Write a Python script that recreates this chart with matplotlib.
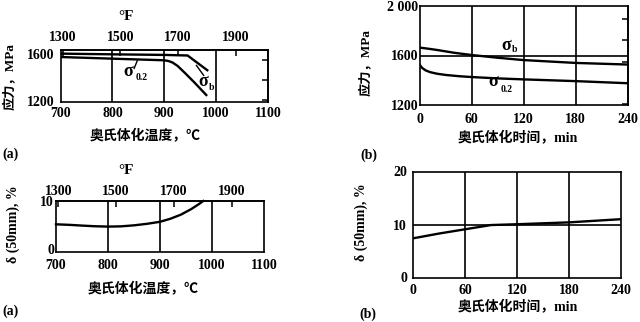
import matplotlib
matplotlib.use('Agg')
import matplotlib.pyplot as plt
import matplotlib.transforms as mtransforms

plt.rcParams['font.family'] = ['Liberation Serif', 'Noto Sans CJK SC']
plt.rcParams['font.weight'] = 'bold'
plt.rcParams['font.size'] = 10
plt.rcParams['axes.linewidth'] = 1.2

# strength / elongation vs austenitizing temperature (deg C)
temp_sb = [700, 800, 900, 945, 964, 983]
sb_temp = [1606, 1600, 1595, 1590, 1527, 1464]
temp_s02 = [700, 800, 900, 908, 916, 926, 940, 958, 981]
s02_temp = [1577, 1563, 1549, 1543, 1530, 1500, 1440, 1360, 1252]
temp_el = [700, 725, 750, 775, 800, 825, 850, 875, 900, 920, 940, 960, 975, 983]
el_temp = [5.4, 5.3, 5.15, 5.02, 4.95, 5.0, 5.2, 5.5, 5.9, 6.5, 7.3, 8.4, 9.4, 10.0]

# strength / elongation vs austenitizing time (min)
time_sb = [0, 10, 20, 40, 60, 90, 120, 180, 240]
sb_time = [1664, 1655, 1645, 1622, 1604, 1582, 1563, 1540, 1527]
time_s02 = [0, 3, 7, 12, 20, 30, 45, 60, 90, 120, 180, 240]
s02_time = [1527, 1500, 1480, 1466, 1453, 1443, 1433, 1426, 1415, 1407, 1393, 1376]
time_el = [0, 30, 60, 90, 120, 180, 240]
el_time = [7.4, 8.3, 9.1, 9.9, 10.05, 10.4, 11.0]

temp_ticks = [700, 800, 900, 1000, 1100]
temp_f_ticks = [1300, 1500, 1700, 1900]
time_ticks = [0, 60, 120, 180, 240]
ksi_ticks = [175, 200, 225, 250, 275]

W, H = 640, 322
fig = plt.figure(figsize=(W / 100, H / 100), dpi=100)

LW = 1.7
GW = 1.2


def box(x0, y0, x1, y1):
    return fig.add_axes([x0 / W, 1 - y1 / H, (x1 - x0) / W, (y1 - y0) / H])


def ftext(x, y, s, **kw):
    kw.setdefault('ha', 'center')
    kw.setdefault('va', 'center')
    return fig.text(x / W, 1 - y / H, s, **kw)


def c2f(c):
    return c * 9 / 5 + 32


def f2c(f):
    return (f - 32) * 5 / 9


def mpa2ksi(m):
    return m / 6.894757


def ksi2mpa(k):
    return k * 6.894757


def fahrenheit_top(ax, pad):
    sec = ax.secondary_xaxis('top', functions=(c2f, f2c))
    sec.set_xticks(temp_f_ticks)
    sec.tick_params(direction='in', length=4, width=1.1, pad=pad, labelsize=10)
    return sec


def ksi_right(ax):
    sec = ax.secondary_yaxis('right', functions=(mpa2ksi, ksi2mpa))
    sec.set_yticks(ksi_ticks)
    sec.tick_params(direction='in', length=4, width=1.1, labelright=False)
    return sec


def style(ax, xpad, ypad):
    ax.tick_params(length=0, labelsize=10)
    ax.tick_params(axis='x', pad=xpad)
    ax.tick_params(axis='y', pad=ypad)


# (a) strength vs temperature
ax1 = box(60.5, 50, 268, 101.7)
ax1.set_xlim(700, 1100)
ax1.set_ylim(1195, 1637)
ax1.set_xticks(temp_ticks)
ax1.set_yticks([1200, 1600])
for x in temp_ticks[1:-1]:
    ax1.axvline(x, color='black', lw=GW)
ax1.plot(temp_sb, sb_temp, color='black', lw=LW)
ax1.plot(temp_s02, s02_temp, color='black', lw=LW)
ax1.plot([842, 848], [1480, 1545], color='black', lw=1.0)
ax1.plot([962, 976], [1505, 1420], color='black', lw=1.0)
style(ax1, 3.5, 4)
fahrenheit_top(ax1, 4)
ksi_right(ax1)
ftext(128.3, 71.7, 'σ', fontsize=13)
ftext(142, 78, '0.2', fontsize=7)
ftext(203.3, 81, 'σ', fontsize=13)
ftext(211.7, 87, 'b', fontsize=7)
ftext(126, 17, '°F', fontsize=11)
ftext(10, 77, '应力，MPa', rotation=90, fontsize=9.5)
ftext(145, 136.7, '奥氏体化温度，℃', fontsize=10)
ftext(2, 154, '(a)', ha='left', fontsize=10)

# (b) strength vs time
ax2 = box(419.5, 6, 627.5, 105)
ax2.set_xlim(0, 240)
ax2.set_ylim(1200, 2000)
ax2.set_xticks(time_ticks)
ax2.set_yticks([1200, 1600, 2000])
ax2.set_yticklabels(['1200', '1600', '2 000'])
for x in time_ticks[1:-1]:
    ax2.axvline(x, color='black', lw=GW)
ax2.axhline(1600, color='black', lw=GW)
ax2.plot(time_sb, sb_time, color='black', lw=LW)
ax2.plot(time_s02, s02_time, color='black', lw=LW)
style(ax2, 6, 1)
ksi_right(ax2)
ftext(506.7, 45, 'σ', fontsize=13)
ftext(515, 50, 'b', fontsize=7)
ftext(493.3, 81.7, 'σ', fontsize=13)
ftext(507, 89, '0.2', fontsize=7)
ftext(366.7, 62, '应力，MPa', rotation=90, fontsize=9.5)
ftext(518, 138, '奥氏体化时间，min', fontsize=10)
ftext(360, 155, '(b)', ha='left', fontsize=10)

# (a) elongation vs temperature
ax3 = box(56, 201, 264, 251.7)
ax3.set_xlim(700, 1100)
ax3.set_ylim(0, 10)
ax3.set_xticks(temp_ticks)
ax3.set_yticks([0, 10])
for x in temp_ticks[1:-1]:
    ax3.axvline(x, color='black', lw=GW)
ax3.plot(temp_el, el_temp, color='black', lw=LW, clip_on=False)
style(ax3, 5, 1.5)
# lift the "0" label a little so it clears the 700 below it
lift = mtransforms.ScaledTranslation(0, 3 / 100, fig.dpi_scale_trans)
zero_label = ax3.get_yticklabels()[0]
zero_label.set_transform(zero_label.get_transform() + lift)
fahrenheit_top(ax3, 2.5)
ftext(126, 171, '°F', fontsize=11)
ftext(13, 224, 'δ (50mm), %', rotation=90, fontsize=10)
ftext(143, 289, '奥氏体化温度，℃', fontsize=10)
ftext(2, 311, '(a)', ha='left', fontsize=10)

# (b) elongation vs time
ax4 = box(413.3, 171.5, 620.7, 277.5)
ax4.set_xlim(0, 240)
ax4.set_ylim(0, 20)
ax4.set_xticks(time_ticks)
ax4.set_yticks([0, 10, 20])
for x in time_ticks[1:-1]:
    ax4.axvline(x, color='black', lw=GW)
ax4.axhline(10, color='black', lw=GW)
ax4.plot(time_el, el_time, color='black', lw=LW)
style(ax4, 5, 4.5)
ftext(361.7, 222, 'δ (50mm), %', rotation=90, fontsize=10)
ftext(518, 307.7, '奥氏体化时间，min', fontsize=10)
ftext(359, 314, '(b)', ha='left', fontsize=10)

fig.savefig('out.png', dpi=100)
